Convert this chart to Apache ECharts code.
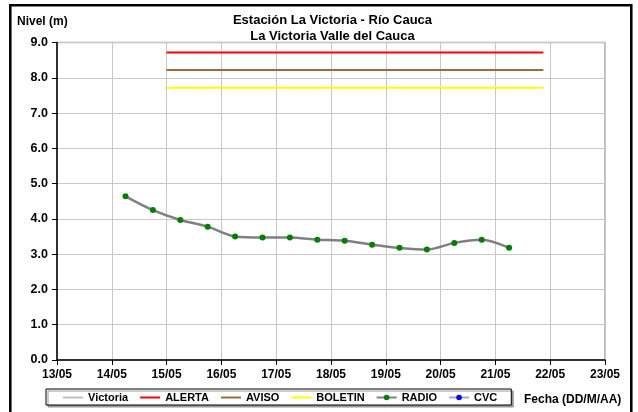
<!DOCTYPE html>
<html><head><meta charset="utf-8">
<script src="https://cdn.jsdelivr.net/npm/echarts@6/dist/echarts.min.js"></script>
<style>html,body{margin:0;padding:0;background:#fff}#c{width:638px;height:412px}</style>
</head><body><div id="c"></div>
<script>
const YEAR = 2011;
const DAY = 86400000;
const tickLabels = ['13/05','14/05','15/05','16/05','17/05','18/05','19/05','20/05','21/05','22/05','23/05'];
const yTickLabels = ['0.0','1.0','2.0','3.0','4.0','5.0','6.0','7.0','8.0','9.0'];
const radioTimes = ['14/05 06:00','14/05 18:00','15/05 06:00','15/05 18:00','16/05 06:00','16/05 18:00','17/05 06:00','17/05 18:00','18/05 06:00','18/05 18:00','19/05 06:00','19/05 18:00','20/05 06:00','20/05 18:00','21/05 06:00'];
const radioLevels = [4.64,4.25,3.97,3.78,3.50,3.47,3.47,3.41,3.38,3.27,3.18,3.13,3.32,3.41,3.18];
const thresholdTimes = ['15/05 00:00','21/05 21:00'];
const alertaLevels = [8.72, 8.72];
const avisoLevels = [8.22, 8.22];
const boletinLevels = [7.72, 7.72];
const victoriaLevels = [];
const cvcLevels = [];

function parseT(s){
  const [d, h] = s.split(' ');
  const [dd, mm] = d.split('/').map(Number);
  const [hh, mi] = (h || '00:00').split(':').map(Number);
  return Date.UTC(YEAR, mm - 1, dd, hh, mi);
}
const xMin = parseT(tickLabels[0]);
const xMax = parseT(tickLabels[tickLabels.length - 1]);
const FONT = "'Liberation Sans', Arial, sans-serif";
const pairs = (times, vals) => vals.map((v, i) => [parseT(times[i]), v]);

const chart = echarts.init(document.getElementById('c'), null, {renderer: 'canvas'});
chart.setOption({
  animation: false,
  backgroundColor: '#fff',
  grid: {left: 57, right: 33, top: 42.5, bottom: 52, show: true, borderColor: '#a6a6a6', borderWidth: 1.5, backgroundColor: 'transparent'},
  xAxis: {
    type: 'value', min: xMin, max: xMax, interval: DAY,
    axisLine: {show: true, onZero: false, lineStyle: {color: '#000', width: 1.5}},
    axisTick: {show: true, length: 5, lineStyle: {color: '#000', width: 1}},
    axisLabel: {margin: 9, fontSize: 12, fontWeight: 'bold', fontFamily: FONT, color: '#000',
      formatter: v => tickLabels[Math.round((v - xMin) / DAY)]},
    splitLine: {show: true, lineStyle: {color: '#c8c8c8', width: 1}}
  },
  yAxis: {
    type: 'value', min: 0, max: 9, interval: 1,
    axisLine: {show: true, lineStyle: {color: '#000', width: 1.5}},
    axisTick: {show: true, length: 5, lineStyle: {color: '#000', width: 1}},
    axisLabel: {margin: 9, fontSize: 12.5, fontWeight: 'bold', fontFamily: FONT, color: '#000',
      formatter: v => yTickLabels[Math.round(v)]},
    splitLine: {show: true, lineStyle: {color: '#c8c8c8', width: 1}}
  },
  legend: {
    left: 46, top: 389, orient: 'horizontal',
    itemWidth: 20, itemHeight: 7, itemGap: 11,
    padding: [3, 14, 2, 16],
    borderColor: '#000', borderWidth: 1, backgroundColor: '#fff',
    shadowColor: '#9a9a9a', shadowOffsetX: 2, shadowOffsetY: 2, shadowBlur: 0,
    textStyle: {fontSize: 11, fontWeight: 'bold', fontFamily: FONT, color: '#000'},
    data: [
      {name: 'Victoria', itemStyle: {opacity: 0}},
      {name: 'ALERTA', itemStyle: {opacity: 0}},
      {name: 'AVISO', itemStyle: {opacity: 0}},
      {name: 'BOLETIN', itemStyle: {opacity: 0}},
      {name: 'RADIO'},
      {name: 'CVC'}
    ]
  },
  series: [
    {name: 'Victoria', type: 'line', data: pairs([], victoriaLevels), symbol: 'none', color: '#c0c0c0', lineStyle: {color: '#c0c0c0', width: 2}},
    {name: 'ALERTA', type: 'line', data: pairs(thresholdTimes, alertaLevels), symbol: 'none', color: '#ff0000', lineStyle: {color: '#ff0000', width: 2}},
    {name: 'AVISO', type: 'line', data: pairs(thresholdTimes, avisoLevels), symbol: 'none', color: '#9c6a3c', lineStyle: {color: '#9c6a3c', width: 2}},
    {name: 'BOLETIN', type: 'line', data: pairs(thresholdTimes, boletinLevels), symbol: 'none', color: '#ffff00', lineStyle: {color: '#ffff00', width: 2}},
    {name: 'RADIO', type: 'line', data: pairs(radioTimes, radioLevels), smooth: 0.3, symbol: 'circle', symbolSize: 6,
      color: '#008000', itemStyle: {color: '#008000', borderWidth: 0}, lineStyle: {color: '#808080', width: 2.5}, z: 5},
    {name: 'CVC', type: 'line', data: pairs([], cvcLevels), symbol: 'circle', symbolSize: 5,
      color: '#0000ff', itemStyle: {color: '#0000ff'}, lineStyle: {color: '#a3a8c4', width: 2}}
  ],
  graphic: [
    {type: 'rect', silent: true, z: 100, shape: {x: 10.3, y: 5.2, width: 621, height: 500},
      style: {fill: 'none', stroke: '#000', lineWidth: 2.5}},
    {type: 'text', x: 332.5, y: 20, style: {text: 'Estación La Victoria - Río Cauca', fontSize: 13, fontWeight: 'bold', fontFamily: FONT, fill: '#000', align: 'center', verticalAlign: 'middle', textAlign: 'center', textVerticalAlign: 'middle'}},
    {type: 'text', x: 332.5, y: 36.5, style: {text: 'La Victoria Valle del Cauca', fontSize: 13, fontWeight: 'bold', fontFamily: FONT, fill: '#000', align: 'center', verticalAlign: 'middle', textAlign: 'center', textVerticalAlign: 'middle'}},
    {type: 'text', x: 17, y: 22, style: {text: 'Nivel (m)', fontSize: 12, fontWeight: 'bold', fontFamily: FONT, fill: '#000', align: 'left', verticalAlign: 'middle', textAlign: 'left', textVerticalAlign: 'middle'}},
    {type: 'text', x: 524, y: 400, style: {text: 'Fecha (DD/M/AA)', fontSize: 12, fontWeight: 'bold', fontFamily: FONT, fill: '#000', align: 'left', verticalAlign: 'middle', textAlign: 'left', textVerticalAlign: 'middle'}}
  ]
});
</script></body></html>
